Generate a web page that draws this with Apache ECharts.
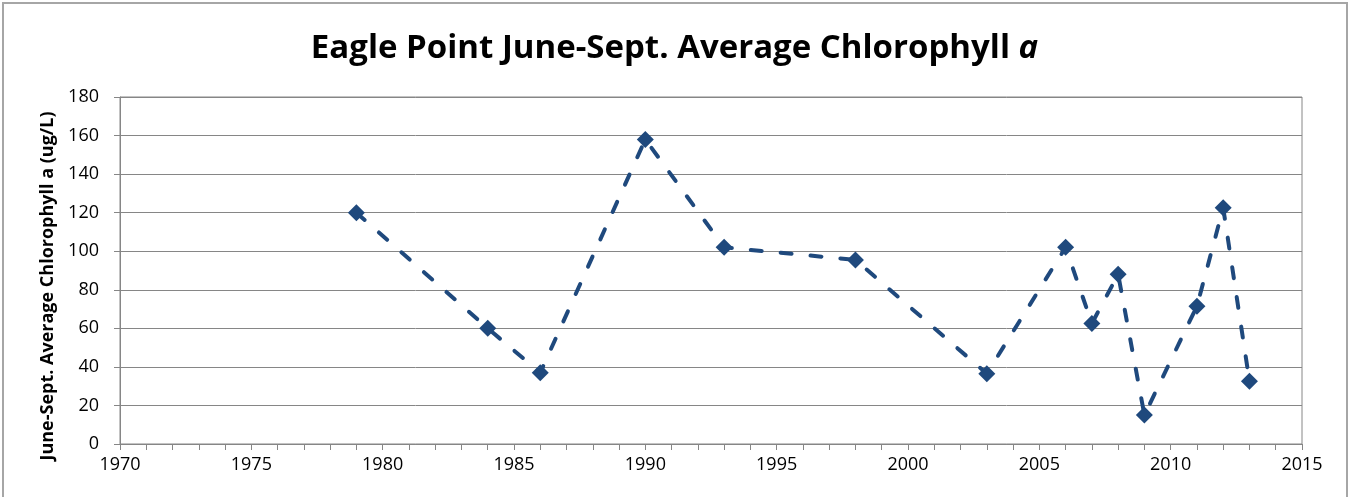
<!DOCTYPE html>
<html>
<head>
<meta charset="utf-8">
<script src="https://cdn.jsdelivr.net/npm/echarts@6/dist/echarts.min.js"></script>
<style>
html,body{margin:0;padding:0;background:#fff;}
#chart{width:1349px;height:497px;}
</style>
</head>
<body>
<div id="chart"></div>
<script>
const years = [1979, 1984, 1986, 1990, 1993, 1998, 2003, 2006, 2007, 2008, 2009, 2011, 2012, 2013];
const chlorophyll = [120, 60, 37, 158, 102, 95.5, 36.5, 102, 62.5, 88, 15, 71.5, 122.5, 32.5];
const titleText = 'Eagle Point June-Sept. Average Chlorophyll ';
const titleItalic = 'a';
const yAxisTitle = 'June-Sept. Average Chlorophyll a (ug/L)';

const chart = echarts.init(document.getElementById('chart'));
const axisGray = '#868686';
chart.setOption({
  animation: false,
  backgroundColor: '#fff',
  title: {
    text: '{b|' + titleText + '}{i|' + titleItalic + '}',
    left: 'center',
    top: 27,
    textStyle: {
      rich: {
        b: {fontFamily: 'Open Sans', fontWeight: 'bold', fontSize: 33, color: '#000'},
        i: {fontFamily: 'Open Sans', fontWeight: 'bold', fontStyle: 'italic', fontSize: 33, color: '#000'}
      }
    }
  },
  graphic: [{
    type: 'rect',
    shape: {x: 3, y: 3, width: 1344, height: 510},
    style: {fill: 'none', stroke: '#a6a6a6', lineWidth: 2},
    silent: true
  }, {
    type: 'text',
    x: 48, y: 286,
    rotation: Math.PI / 2,
    style: {
      text: yAxisTitle,
      fontFamily: 'Open Sans', fontWeight: 'bold', fontSize: 18, fill: '#000',
      align: 'center', verticalAlign: 'middle'
    },
    silent: true
  }],
  grid: {
    left: 120, right: 47, top: 97, bottom: 53,
    show: true, borderColor: axisGray, borderWidth: 1, backgroundColor: 'transparent'
  },
  xAxis: {
    type: 'value',
    min: 1970, max: 2015, interval: 5,
    axisLine: {show: true, onZero: false, lineStyle: {color: axisGray, width: 1}},
    axisTick: {show: true, length: 6, lineStyle: {color: axisGray}},
    minorTick: {show: true, splitNumber: 5, length: 6, lineStyle: {color: axisGray}},
    splitLine: {show: false},
    axisLabel: {fontFamily: 'Open Sans', fontSize: 18, color: '#000', margin: 12, formatter: v => String(v)}
  },
  yAxis: {
    type: 'value',
    min: 0, max: 180, interval: 20,
    axisLine: {show: true, lineStyle: {color: axisGray}},
    axisTick: {show: true, length: 6, lineStyle: {color: axisGray}},
    splitLine: {show: true, lineStyle: {color: axisGray, width: 1}},
    axisLabel: {fontFamily: 'Open Sans', fontSize: 18, color: '#000', margin: 21}
  },
  series: [{
    type: 'line',
    data: years.map((y, i) => [y, chlorophyll[i]]),
    symbol: 'diamond',
    symbolSize: 17,
    itemStyle: {color: '#1F497D'},
    lineStyle: {color: '#1F497D', width: 4, type: [11, 19], cap: 'round'},
    z: 5
  }]
});
</script>
</body>
</html>
